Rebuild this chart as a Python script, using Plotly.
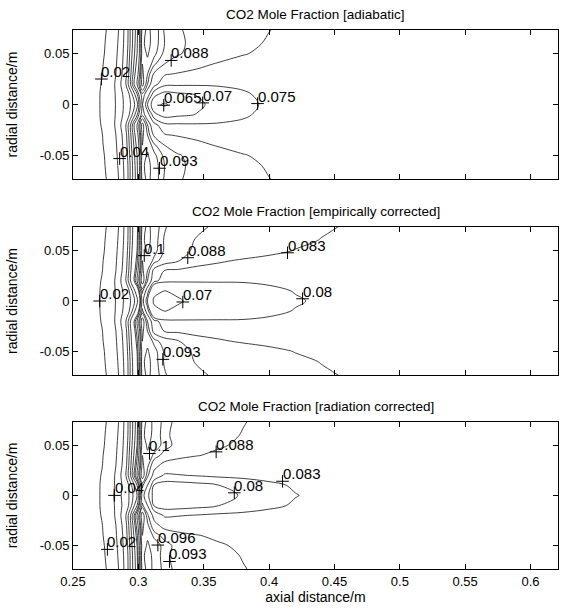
import plotly.graph_objects as go

# ---------------- data ----------------
axial_nodes = [0.25, 0.265, 0.272, 0.28, 0.288, 0.294, 0.299, 0.303, 0.307, 0.312, 0.32,
               0.33, 0.345, 0.36, 0.38, 0.40, 0.42, 0.44, 0.47, 0.52, 0.621]
radial_half = [0.0, 0.01, 0.02, 0.03, 0.04, 0.05, 0.06, 0.074]

co2_adiabatic = [
    [0.000, 0.012, 0.022, 0.036, 0.049, 0.060, 0.068, 0.088, 0.075, 0.066, 0.0645, 0.0665, 0.0692, 0.0712, 0.0738, 0.0758, 0.0768, 0.0775, 0.0780, 0.0783, 0.0785],
    [0.000, 0.012, 0.022, 0.036, 0.050, 0.062, 0.074, 0.092, 0.083, 0.0715, 0.0680, 0.0690, 0.0702, 0.0722, 0.0745, 0.0760, 0.0770, 0.0776, 0.0780, 0.0783, 0.0785],
    [0.000, 0.011, 0.021, 0.036, 0.053, 0.070, 0.088, 0.102, 0.093, 0.082, 0.0762, 0.0758, 0.0756, 0.0756, 0.0757, 0.0765, 0.0770, 0.0775, 0.0779, 0.0782, 0.0784],
    [0.000, 0.010, 0.019, 0.034, 0.051, 0.069, 0.085, 0.101, 0.096, 0.087, 0.0805, 0.0795, 0.0787, 0.0782, 0.0779, 0.0778, 0.0778, 0.0778, 0.0779, 0.0780, 0.0782],
    [0.000, 0.009, 0.018, 0.033, 0.050, 0.068, 0.082, 0.100, 0.099, 0.094, 0.0880, 0.0840, 0.0812, 0.0797, 0.0788, 0.0784, 0.0782, 0.0781, 0.0781, 0.0781, 0.0782],
    [0.000, 0.008, 0.016, 0.032, 0.049, 0.067, 0.080, 0.098, 0.1005, 0.097, 0.0920, 0.0888, 0.0850, 0.0825, 0.0802, 0.0792, 0.0787, 0.0784, 0.0782, 0.0782, 0.0782],
    [0.000, 0.007, 0.015, 0.031, 0.048, 0.066, 0.079, 0.099, 0.1015, 0.098, 0.0930, 0.0892, 0.0862, 0.0838, 0.0810, 0.0796, 0.0789, 0.0785, 0.0783, 0.0782, 0.0782],
    [0.000, 0.006, 0.013, 0.029, 0.047, 0.066, 0.078, 0.098, 0.101, 0.0985, 0.0925, 0.0885, 0.0865, 0.0845, 0.0818, 0.0801, 0.0791, 0.0786, 0.0784, 0.0783, 0.0782],
]

co2_empirical = [
    [0.000, 0.012, 0.022, 0.036, 0.049, 0.060, 0.068, 0.090, 0.080, 0.0685, 0.0665, 0.0695, 0.0712, 0.0728, 0.0752, 0.0776, 0.0796, 0.0806, 0.0812, 0.0816, 0.0818],
    [0.000, 0.012, 0.022, 0.036, 0.050, 0.062, 0.074, 0.094, 0.085, 0.0725, 0.0699, 0.0708, 0.0730, 0.0750, 0.0770, 0.0790, 0.0802, 0.0810, 0.0814, 0.0817, 0.0818],
    [0.000, 0.011, 0.021, 0.036, 0.053, 0.070, 0.088, 0.103, 0.093, 0.084, 0.0815, 0.0812, 0.0810, 0.0808, 0.0806, 0.0808, 0.0810, 0.0812, 0.0813, 0.0814, 0.0814],
    [0.000, 0.010, 0.019, 0.034, 0.051, 0.069, 0.085, 0.101, 0.096, 0.086, 0.0828, 0.0822, 0.0818, 0.0816, 0.0815, 0.0815, 0.0815, 0.0815, 0.0815, 0.0815, 0.0815],
    [0.000, 0.009, 0.018, 0.033, 0.050, 0.068, 0.082, 0.100, 0.099, 0.095, 0.0905, 0.0885, 0.0845, 0.0835, 0.0826, 0.0821, 0.0820, 0.0819, 0.0818, 0.0817, 0.0815],
    [0.000, 0.008, 0.016, 0.032, 0.049, 0.067, 0.080, 0.098, 0.1005, 0.0975, 0.0925, 0.0893, 0.0873, 0.0862, 0.0850, 0.0838, 0.0829, 0.0825, 0.0821, 0.0818, 0.0816],
    [0.000, 0.007, 0.015, 0.031, 0.048, 0.066, 0.079, 0.099, 0.1015, 0.098, 0.0925, 0.0895, 0.0877, 0.0868, 0.0855, 0.0845, 0.0836, 0.0829, 0.0823, 0.0819, 0.0817],
    [0.000, 0.006, 0.013, 0.029, 0.047, 0.066, 0.078, 0.098, 0.101, 0.0985, 0.0935, 0.0905, 0.0887, 0.0875, 0.0862, 0.0850, 0.0840, 0.0834, 0.0825, 0.0820, 0.0818],
]

co2_radiation = [
    [0.000, 0.012, 0.022, 0.038, 0.052, 0.062, 0.070, 0.090, 0.084, 0.0785, 0.0768, 0.0770, 0.0778, 0.0788, 0.0803, 0.0818, 0.0829, 0.0836, 0.0842, 0.0846, 0.0848],
    [0.000, 0.012, 0.022, 0.037, 0.051, 0.063, 0.075, 0.094, 0.088, 0.0795, 0.0785, 0.0785, 0.0790, 0.0798, 0.0812, 0.0824, 0.0833, 0.0839, 0.0843, 0.0846, 0.0848],
    [0.000, 0.011, 0.021, 0.036, 0.053, 0.070, 0.088, 0.103, 0.094, 0.086, 0.0825, 0.0828, 0.0832, 0.0836, 0.0838, 0.0840, 0.0841, 0.0842, 0.0844, 0.0846, 0.0848],
    [0.000, 0.010, 0.019, 0.034, 0.051, 0.069, 0.085, 0.101, 0.097, 0.090, 0.0860, 0.0852, 0.0848, 0.0846, 0.0846, 0.0846, 0.0846, 0.0846, 0.0847, 0.0848, 0.0848],
    [0.000, 0.009, 0.018, 0.033, 0.050, 0.068, 0.082, 0.100, 0.0995, 0.095, 0.0915, 0.0895, 0.0882, 0.0872, 0.0862, 0.0856, 0.0852, 0.0850, 0.0849, 0.0849, 0.0848],
    [0.000, 0.008, 0.016, 0.032, 0.049, 0.067, 0.080, 0.098, 0.1005, 0.0985, 0.0945, 0.0918, 0.0898, 0.0886, 0.0872, 0.0862, 0.0856, 0.0852, 0.0850, 0.0849, 0.0848],
    [0.000, 0.007, 0.015, 0.031, 0.048, 0.066, 0.079, 0.099, 0.1015, 0.099, 0.0940, 0.0915, 0.0900, 0.0892, 0.0878, 0.0866, 0.0858, 0.0853, 0.0850, 0.0849, 0.0848],
    [0.000, 0.006, 0.013, 0.029, 0.047, 0.066, 0.078, 0.098, 0.101, 0.0995, 0.0945, 0.0920, 0.0905, 0.0898, 0.0882, 0.0870, 0.0860, 0.0854, 0.0851, 0.0849, 0.0848],
]

levels_adiabatic = [0.02, 0.04, 0.05, 0.06, 0.065, 0.07, 0.075, 0.08, 0.088, 0.093, 0.096, 0.1]
levels_empirical = [0.02, 0.04, 0.05, 0.06, 0.065, 0.07, 0.08, 0.083, 0.088, 0.093, 0.096, 0.1]
levels_radiation = [0.02, 0.04, 0.05, 0.06, 0.065, 0.07, 0.075, 0.08, 0.083, 0.088, 0.093, 0.096, 0.1]

label_x_adiabatic = [0.2717, 0.2857, 0.3194, 0.3492, 0.3912, 0.3251, 0.3162]
label_y_adiabatic = [0.0252, -0.0532, -0.0006, 0.0017, 0.0010, 0.0435, -0.0627]
label_t_adiabatic = ["0.02", "0.04", "0.065", "0.07", "0.075", "0.088", "0.093"]

label_x_empirical = [0.2704, 0.3045, 0.3378, 0.4141, 0.3340, 0.4256, 0.3187]
label_y_empirical = [0.0, 0.045, 0.0429, 0.0478, -0.001, 0.0022, -0.0579]
label_t_empirical = ["0.02", "0.1", "0.088", "0.083", "0.07", "0.08", "0.093"]

label_x_radiation = [0.3085, 0.3595, 0.4103, 0.3734, 0.2818, 0.2763, 0.3149, 0.3238]
label_y_radiation = [0.0419, 0.0435, 0.0141, 0.0026, 0.0, -0.0539, -0.0496, -0.066]
label_t_radiation = ["0.1", "0.088", "0.083", "0.08", "0.04", "0.02", "0.096", "0.093"]

panel_titles = ["CO2 Mole Fraction [adiabatic]",
                "CO2 Mole Fraction [empirically corrected]",
                "CO2 Mole Fraction [radiation corrected]"]
x_tick_values = [0.25, 0.3, 0.35, 0.4, 0.45, 0.5, 0.55, 0.6]
x_tick_labels = ["0.25", "0.3", "0.35", "0.4", "0.45", "0.5", "0.55", "0.6"]
y_tick_values = [-0.05, 0, 0.05]
y_tick_labels = ["-0.05", "0", "0.05"]

# ---------------- build ----------------
FONT = "Liberation Sans, Arial, Helvetica, sans-serif"
radial_full = [-v for v in reversed(radial_half[1:])] + radial_half

panels = [
    (co2_adiabatic, levels_adiabatic, label_x_adiabatic, label_y_adiabatic, label_t_adiabatic),
    (co2_empirical, levels_empirical, label_x_empirical, label_y_empirical, label_t_empirical),
    (co2_radiation, levels_radiation, label_x_radiation, label_y_radiation, label_t_radiation),
]
domains = [[0.7232, 1.0], [0.3598, 0.6347], [0.0, 0.2731]]

fig = go.Figure()
annotations = []
for i, (rows, levels, lx, ly, lt) in enumerate(panels):
    xa = "x" if i == 0 else f"x{i+1}"
    ya = "y" if i == 0 else f"y{i+1}"
    z_full = [list(r) for r in reversed(rows[1:])] + [list(r) for r in rows]
    for lv in levels:
        fig.add_trace(go.Contour(
            x=axial_nodes, y=radial_full, z=z_full,
            autocontour=False,
            contours=dict(start=lv, end=lv, size=1, coloring="none", showlabels=False),
            line=dict(color="#111111", width=0.8),
            showscale=False, hoverinfo="skip", xaxis=xa, yaxis=ya,
        ))
    fig.add_trace(go.Scatter(
        x=lx, y=ly, mode="markers", xaxis=xa, yaxis=ya,
        marker=dict(symbol="cross-thin", size=9, line=dict(width=1, color="black"), color="black"),
        hoverinfo="skip", showlegend=False,
    ))
    for x0, y0, t in zip(lx, ly, lt):
        annotations.append(dict(
            x=x0, y=y0, xref=xa, yref=ya, text=t, showarrow=False,
            xanchor="left", yanchor="bottom", xshift=-2, yshift=-3,
            font=dict(family=FONT, size=15, color="black"),
        ))
    annotations.append(dict(
        x=0.5, y=domains[i][1], xref="paper", yref="paper", text=panel_titles[i],
        showarrow=False, xanchor="center", yanchor="bottom", yshift=6,
        font=dict(family=FONT, size=13.5, color="black"),
    ))

axis_common = dict(showgrid=False, zeroline=False, showline=True, linecolor="black",
                   linewidth=1, mirror="ticks", ticks="inside", ticklen=5,
                   tickcolor="black", tickfont=dict(family=FONT, size=13, color="black"))

layout = dict(
    width=566, height=608,
    margin=dict(l=73, r=7, t=30, b=36),
    paper_bgcolor="white", plot_bgcolor="white",
    showlegend=False,
    annotations=annotations,
    font=dict(family=FONT, color="black"),
)
for i in range(3):
    xk = "xaxis" if i == 0 else f"xaxis{i+1}"
    yk = "yaxis" if i == 0 else f"yaxis{i+1}"
    ya = "y" if i == 0 else f"y{i+1}"
    xa = "x" if i == 0 else f"x{i+1}"
    xax = dict(axis_common, range=[0.25, 0.621], tickvals=x_tick_values,
               ticktext=x_tick_labels, showticklabels=(i == 2), anchor=ya, domain=[0, 1])
    if i == 2:
        xax["title"] = dict(text="axial distance/m", font=dict(family=FONT, size=14), standoff=3)
    layout[xk] = xax
    layout[yk] = dict(axis_common, range=[-0.0735, 0.0735], tickvals=y_tick_values,
                      ticktext=y_tick_labels, anchor=xa, domain=domains[i],
                      title=dict(text="radial distance/m", font=dict(family=FONT, size=14), standoff=18))

fig.update_layout(**layout)
fig.write_html("out.html")
